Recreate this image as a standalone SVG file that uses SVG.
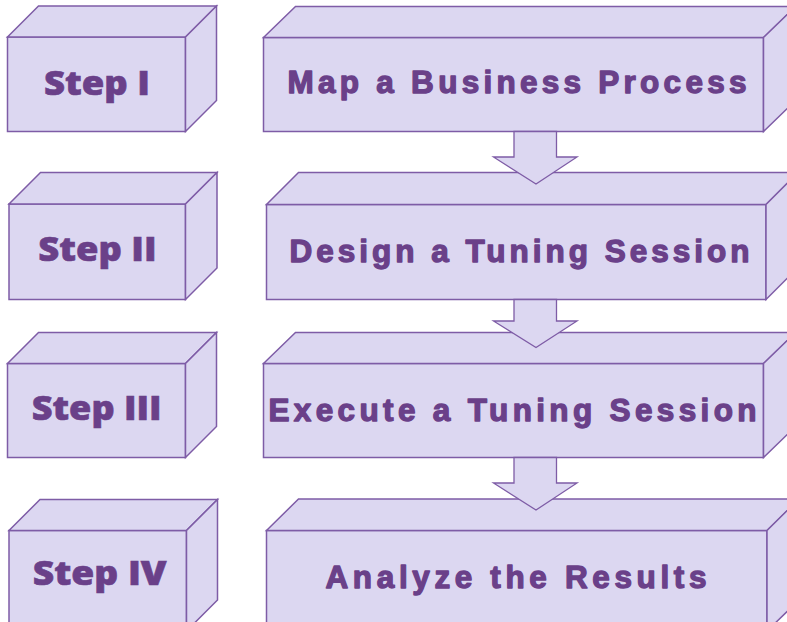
<svg xmlns="http://www.w3.org/2000/svg" width="787" height="622" viewBox="0 0 787 622">
  <style>
    .face { fill: #dcd7f1; stroke: #7e5ca6; stroke-width: 1.5; stroke-linejoin: miter; }
    .arrow { fill: #dcd7f1; stroke: #7e5ca6; stroke-width: 1.3; stroke-linejoin: miter; }
    .step { font-family: "Open Sans", "Lato", "DejaVu Sans", sans-serif; font-weight: 800; font-size: 33px; fill: #6a4089; stroke: #6a4089; stroke-width: 0.6; }
    .task { font-family: "Liberation Sans", Arial, sans-serif; font-weight: bold; font-size: 31.5px; fill: #6a4089; stroke: #6a4089; stroke-width: 1.3; stroke-linejoin: round; }
  </style>
  <rect width="787" height="622" fill="#ffffff"/>

  <!-- Step boxes (left column) -->
  <g id="step1">
    <rect class="face" x="7.5" y="37" width="178" height="94.5"/>
    <polygon class="face" points="7.5,37 38.5,6 216.5,6 185.5,37"/>
    <polygon class="face" points="185.5,37 216.5,6 216.5,100.5 185.5,131.5"/>
    <text class="step" x="44" y="95" textLength="106" lengthAdjust="spacingAndGlyphs">Step I</text>
  </g>
  <g id="step2">
    <rect class="face" x="9" y="204" width="176.5" height="95.5"/>
    <polygon class="face" points="9,204 40.5,172.5 217,172.5 185.5,204"/>
    <polygon class="face" points="185.5,204 217,172.5 217,268 185.5,299.5"/>
    <text class="step" x="38.3" y="261" textLength="118.4" lengthAdjust="spacingAndGlyphs">Step II</text>
  </g>
  <g id="step3">
    <rect class="face" x="7.5" y="363.5" width="178" height="94"/>
    <polygon class="face" points="7.5,363.5 38.5,332.5 216.5,332.5 185.5,363.5"/>
    <polygon class="face" points="185.5,363.5 216.5,332.5 216.5,426.5 185.5,457.5"/>
    <text class="step" x="31.7" y="420" textLength="130" lengthAdjust="spacingAndGlyphs">Step III</text>
  </g>
  <g id="step4">
    <rect class="face" x="9" y="530.5" width="177.5" height="100"/>
    <polygon class="face" points="9,530.5 40,499.5 217.5,499.5 186.5,530.5"/>
    <polygon class="face" points="186.5,530.5 217.5,499.5 217.5,600 186.5,631"/>
    <text class="step" x="32.7" y="585" textLength="134" lengthAdjust="spacingAndGlyphs">Step IV</text>
  </g>

  <!-- Task boxes (right column) -->
  <g id="task1">
    <rect class="face" x="263.5" y="37.5" width="500" height="94"/>
    <polygon class="face" points="263.5,37.5 295.5,6.5 795.5,6.5 763.5,37.5"/>
    <polygon class="face" points="763.5,37.5 795.5,6.5 795.5,100.5 763.5,131.5"/>
    <text class="task" x="287.5" y="92.5" textLength="459" lengthAdjust="spacing">Map a Business Process</text>
  </g>
  <g id="task2">
    <rect class="face" x="266.5" y="204.5" width="499.5" height="95"/>
    <polygon class="face" points="266.5,204.5 298.5,172.5 798,172.5 766,204.5"/>
    <polygon class="face" points="766,204.5 798,172.5 798,267.5 766,299.5"/>
    <text class="task" x="289.5" y="262" textLength="460" lengthAdjust="spacing">Design a Tuning Session</text>
  </g>
  <g id="task3">
    <rect class="face" x="263.5" y="363.5" width="500" height="94"/>
    <polygon class="face" points="263.5,363.5 295.5,332.5 795.5,332.5 763.5,363.5"/>
    <polygon class="face" points="763.5,363.5 795.5,332.5 795.5,426.5 763.5,457.5"/>
    <text class="task" x="268.5" y="421" textLength="488" lengthAdjust="spacing">Execute a Tuning Session</text>
  </g>
  <g id="task4">
    <rect class="face" x="266.5" y="530.5" width="500.5" height="100"/>
    <polygon class="face" points="266.5,530.5 298.5,499 799,499 767,530.5"/>
    <polygon class="face" points="767,530.5 799,499 799,600 767,631"/>
    <text class="task" x="325.5" y="588" textLength="381" lengthAdjust="spacing">Analyze the Results</text>
  </g>

  <!-- Block arrows between tasks -->
  <g id="connectors">
    <polygon class="arrow" points="514,131.5 556.5,131.5 556.5,157 577,157 536,184 493.5,157 514,157"/>
    <polygon class="arrow" points="514,299.5 556.5,299.5 556.5,321 577,321 536,347.5 493.5,321 514,321"/>
    <polygon class="arrow" points="514,457.5 556.5,457.5 556.5,483 577,483 536,510 493.5,483 514,483"/>
  </g>
</svg>
